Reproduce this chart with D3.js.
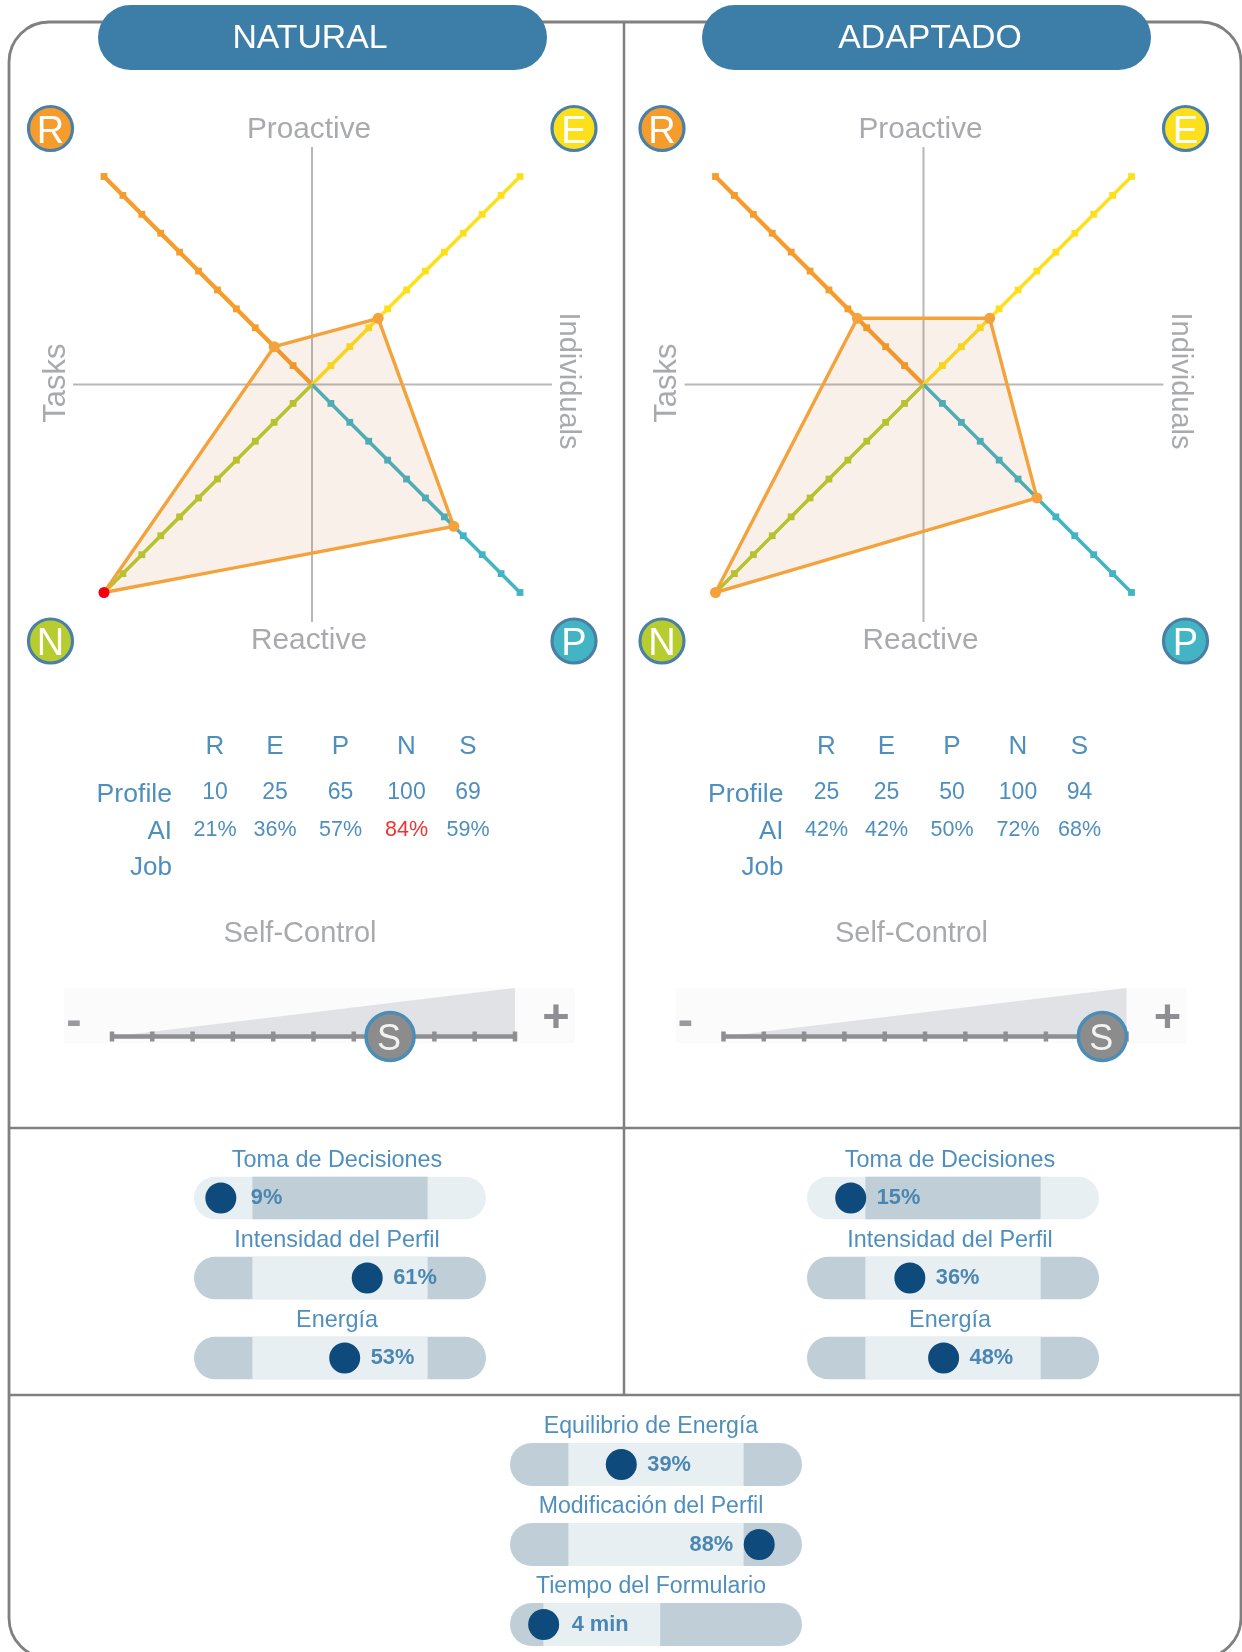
<!DOCTYPE html>
<html>
<head>
<meta charset="utf-8">
<script src="https://cdn.jsdelivr.net/npm/d3@7"></script>
<style>
  html, body { margin: 0; padding: 0; background: #fff; }
  svg { display: block; font-family: "Liberation Sans", Arial, sans-serif; filter: blur(0.45px); }
</style>
</head>
<body>
<div id="chart"></div>
<script>
// Data
const panelTitles = ['NATURAL', 'ADAPTADO'];
const dimensions = ['R', 'E', 'P', 'N', 'S'];
const rowLabels = ['Profile', 'AI', 'Job'];
const radarDimensions = ['R', 'E', 'P', 'N'];

const naturalProfile = [10, 25, 65, 100, 69];
const naturalAI = [21, 36, 57, 84, 59];
const adaptedProfile = [25, 25, 50, 100, 94];
const adaptedAI = [42, 42, 50, 72, 68];

// Dimensions flagged red in the AI row and on the radar vertex
const naturalAlert = ['N'];
const adaptedAlert = [];

const gaugeLabels = ['Toma de Decisiones', 'Intensidad del Perfil', 'Energía'];
const naturalGauges = [9, 61, 53];
const adaptedGauges = [15, 36, 48];

const bottomLabels = ['Equilibrio de Energía', 'Modificación del Perfil', 'Tiempo del Formulario'];
const bottomValues = [39, 88, 4];
const bottomUnits = ['%', '%', ' min'];
const bottomDomains = [[0, 100], [0, 100], [0, 35]];
// light band limits, in the units of each gauge
const bottomBands = [[20, 80], [20, 80], [4, 18]];

const colors = {
  R: '#f59c2c', E: '#fde01c', P: '#43b4c3', N: '#b7cc2e',
  frame: '#808080', axis: '#b8b8b8', grey: '#a8aaad', blue: '#4f8fbe',
  pill: '#3d7ea9', light: '#e8eff3', dark: '#c0cfd7', knob: '#0f4a7c', poly: '#f4a23c'
};

const width = 1242, height = 1652;
const svg = d3.select('#chart').append('svg')
  .attr('width', width)
  .attr('height', height);

// Outer frame, bottom corners run off the page
svg.append('rect')
  .attr('x', 9).attr('y', 22)
  .attr('width', 1232).attr('height', 1636)
  .attr('rx', 40)
  .attr('fill', 'none')
  .attr('stroke', colors.frame)
  .attr('stroke-width', 2.8);

svg.append('line').attr('x1', 624).attr('x2', 624).attr('y1', 22).attr('y2', 1395)
  .attr('stroke', colors.frame).attr('stroke-width', 2.5);
[1128, 1395].forEach(y => {
  svg.append('line').attr('x1', 9).attr('x2', 1241).attr('y1', y).attr('y2', y)
    .attr('stroke', colors.frame).attr('stroke-width', 2.5);
});

function label(g, x, y, text, size, fill, anchor = 'middle') {
  return g.append('text')
    .attr('x', x).attr('y', y)
    .attr('text-anchor', anchor)
    .attr('dominant-baseline', 'central')
    .style('font-size', size + 'px')
    .attr('fill', fill)
    .text(text);
}

function drawRadar(g, profile, alert) {
  const cx = 312, cy = 384.5;
  const r = d3.scaleLinear().domain([-10, 100]).range([0, 208]);
  const dirs = { R: [-1, -1], E: [1, -1], P: [1, 1], N: [-1, 1] };

  g.append('line').attr('x1', 73).attr('x2', 552).attr('y1', cy).attr('y2', cy)
    .attr('stroke', colors.axis).attr('stroke-width', 2);
  g.append('line').attr('x1', cx).attr('x2', cx).attr('y1', 147).attr('y2', 622)
    .attr('stroke', colors.axis).attr('stroke-width', 2);

  radarDimensions.forEach(d => {
    const [dx, dy] = dirs[d];
    g.append('line')
      .attr('x1', cx).attr('y1', cy)
      .attr('x2', cx + dx * r(100)).attr('y2', cy + dy * r(100))
      .attr('stroke', colors[d]).attr('stroke-width', d === 'R' ? 4.2 : 3.6);
    // axis-aligned squares read as small diamonds on the diagonal
    g.selectAll('.tick' + d)
      .data(r.ticks(11).slice(1))
      .enter().append('rect')
      .attr('x', v => cx + dx * r(v) - 3.4)
      .attr('y', v => cy + dy * r(v) - 3.4)
      .attr('width', 6.8).attr('height', 6.8)
      .attr('fill', colors[d]);
  });

  const pts = radarDimensions.map(d => {
    const v = profile[dimensions.indexOf(d)];
    return { d, x: cx + dirs[d][0] * r(v), y: cy + dirs[d][1] * r(v) };
  });
  g.append('path')
    .attr('d', d3.line().x(p => p.x).y(p => p.y).curve(d3.curveLinearClosed)(pts))
    .attr('fill', 'rgba(200,110,50,0.1)')
    .attr('stroke', colors.poly).attr('stroke-width', 3.4)
    .attr('stroke-linejoin', 'round');
  g.selectAll('.vertex').data(pts).enter().append('circle')
    .attr('cx', p => p.x).attr('cy', p => p.y).attr('r', 5.5)
    .attr('fill', p => alert.includes(p.d) ? '#f5000e' : colors.poly);

  label(g, 309, 127.5, 'Proactive', 29.8, colors.grey);
  label(g, 309, 638.5, 'Reactive', 29.8, colors.grey);
  label(g, 0, 0, 'Tasks', 31, colors.grey)
    .attr('transform', 'translate(54,383) rotate(-90)');
  label(g, 0, 0, 'Individuals', 29, colors.grey)
    .attr('transform', 'translate(570,381) rotate(90)');

  const badges = [['R', 50.5, 128.5], ['E', 574, 128.5], ['N', 50.5, 641], ['P', 574, 641]];
  badges.forEach(([d, x, y]) => {
    g.append('circle').attr('cx', x).attr('cy', y).attr('r', 22)
      .attr('fill', colors[d]).attr('stroke', '#4a80a6').attr('stroke-width', 3.2);
    label(g, x, y + 1, d, 38, '#fff');
  });
}

function drawTable(g, profile, ai, alert) {
  // columns are not evenly spaced in the original
  const colX = { R: 215, E: 275, P: 340.5, N: 406.5, S: 468 };
  dimensions.forEach((d, i) => {
    label(g, colX[d], 745, d, 26, colors.blue);
    label(g, colX[d], 791, profile[i], 23, colors.blue);
    label(g, colX[d], 829, ai[i] + '%', 21.5, alert.includes(d) ? '#f0332f' : colors.blue);
  });
  rowLabels.forEach((t, i) => {
    label(g, 172, [793, 830, 866][i], t, i === 0 ? 26.6 : 26, colors.blue, 'end');
  });
}

function drawSelfControl(g, value) {
  const x = d3.scaleLinear().domain([0, 100]).range([112, 515]);
  const y0 = 1036.5, top = 988;

  label(g, 300, 932, 'Self-Control', 29, colors.grey);

  g.append('rect').attr('x', 64).attr('y', 988).attr('width', 511).attr('height', 55)
    .attr('fill', '#fbfbfb');
  g.append('path')
    .attr('d', `M${x(0)},${y0}L${x(100)},${top}L${x(100)},${y0}Z`)
    .attr('fill', '#e1e2e5');
  g.append('line')
    .attr('x1', x(0)).attr('x2', x(100)).attr('y1', y0).attr('y2', y0)
    .attr('stroke', '#8e8e93').attr('stroke-width', 4.5);
  g.selectAll('.sc').data(x.ticks(10)).enter().append('line')
    .attr('x1', d => x(d)).attr('x2', d => x(d))
    .attr('y1', y0 - 5).attr('y2', y0 + 5)
    .attr('stroke', '#8e8e93').attr('stroke-width', 4.5);

  label(g, 74, 1019, '-', 46, '#9a9a9e').style('font-weight', 'bold');
  label(g, 556, 1015, '+', 47, '#8e8e93').style('font-weight', 'bold');

  g.append('circle').attr('cx', x(value)).attr('cy', y0).attr('r', 24)
    .attr('fill', '#8c8c8c').attr('stroke', '#4b8db6').attr('stroke-width', 3.5);
  label(g, x(value) - 1, y0 + 1, 'S', 36, '#f2f2f2');
}

// One gauge: rounded track, band, knob and the value beside it
function drawGauge(g, id, x0, yTop, opts) {
  const w = 292, h = 43;
  const track = d3.scaleLinear().domain(opts.domain).range([x0, x0 + w]);
  const knob = d3.scaleLinear().domain(opts.domain).range([x0 + 1.5, x0 + 283]);

  const clipId = 'clip' + id;
  g.append('clipPath').attr('id', clipId).append('rect')
    .attr('x', x0).attr('y', yTop).attr('width', w).attr('height', h)
    .attr('rx', h / 2);

  const bar = g.append('g').attr('clip-path', `url(#${clipId})`);
  bar.append('rect').attr('x', x0).attr('y', yTop).attr('width', w).attr('height', h)
    .attr('fill', opts.inverse ? colors.light : colors.dark);
  bar.append('rect')
    .attr('x', track(opts.band[0])).attr('y', yTop)
    .attr('width', track(opts.band[1]) - track(opts.band[0])).attr('height', h)
    .attr('fill', opts.inverse ? colors.dark : colors.light);

  label(g, x0 + w / 2 + opts.titleShift, yTop - 18, opts.title, opts.titleSize, colors.blue);

  const kx = knob(opts.value), ky = yTop + h / 2;
  g.append('circle').attr('cx', kx).attr('cy', ky).attr('r', 15.5).attr('fill', colors.knob);

  const onLeft = opts.value / opts.domain[1] > 0.8;
  const gap = opts.unit === '%' && opts.value < 10 ? 30 : opts.unit === '%' ? 26 : 28;
  label(g, onLeft ? kx - gap : kx + gap, ky - 1.2, opts.value + opts.unit, 21.8, '#4a86b2', onLeft ? 'end' : 'start')
    .style('font-weight', 'bold');
}

function drawPanel(offset, pillX, titleX, gaugeX, title, profile, ai, alert, gauges, idx) {
  const pill = svg.append('g');
  pill.append('rect')
    .attr('x', pillX).attr('y', 5).attr('width', 449).attr('height', 65).attr('rx', 32.5)
    .attr('fill', colors.pill);
  label(pill, titleX, 36, title, 33.8, '#fff');

  const g = svg.append('g').attr('transform', `translate(${offset},0)`);
  drawRadar(g, profile, alert);
  drawTable(g, profile, ai, alert);
  drawSelfControl(g, profile[dimensions.indexOf('S')]);

  gauges.forEach((v, i) => {
    drawGauge(svg, `p${idx}g${i}`, gaugeX, 1176.5 + i * 80, {
      title: gaugeLabels[i], value: v, unit: '%', domain: [0, 100], band: [20, 80],
      inverse: i === 0, titleShift: -3, titleSize: 23.4
    });
  });
}

drawPanel(0, 98, 310, 194, panelTitles[0], naturalProfile, naturalAI, naturalAlert, naturalGauges, 0);
drawPanel(611.5, 702, 930, 807, panelTitles[1], adaptedProfile, adaptedAI, adaptedAlert, adaptedGauges, 1);

bottomLabels.forEach((t, i) => {
  drawGauge(svg, `b${i}`, 510, 1443 + i * 80, {
    title: t, value: bottomValues[i], unit: bottomUnits[i],
    domain: bottomDomains[i], band: bottomBands[i],
    inverse: false, titleShift: -5, titleSize: 23.1
  });
});
</script>
</body>
</html>
